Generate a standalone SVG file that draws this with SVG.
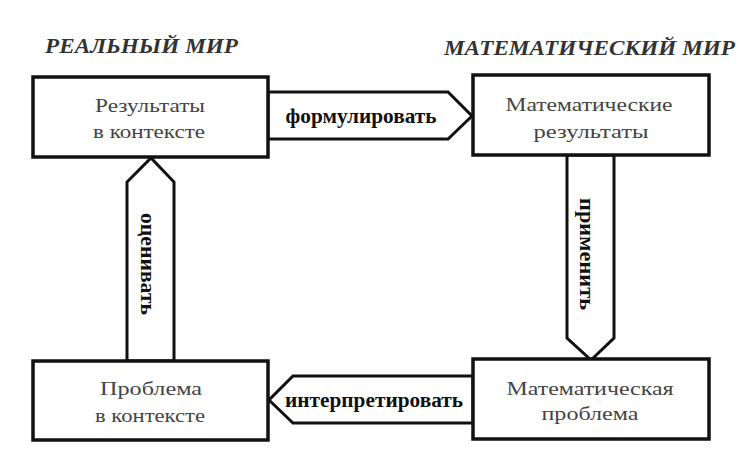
<svg xmlns="http://www.w3.org/2000/svg" width="754" height="470" viewBox="0 0 754 470">
<style>
.box{fill:#fff;stroke:#111;stroke-width:3.5}
.arr{fill:#fff;stroke:#111;stroke-width:3;stroke-linejoin:miter}
.bt{font-family:"Liberation Serif","Times New Roman",serif;font-size:19px;fill:#444;text-anchor:middle}
.al{font-family:"Liberation Serif","Times New Roman",serif;font-size:20px;font-weight:bold;fill:#111;text-anchor:middle}
.tt{font-family:"Liberation Serif","Times New Roman",serif;font-size:20px;font-weight:bold;font-style:italic;fill:#333}
</style>
<rect width="754" height="470" fill="#fff"/>
<text class="tt" x="45" y="53" textLength="193" lengthAdjust="spacingAndGlyphs">РЕАЛЬНЫЙ МИР</text>
<text class="tt" x="444" y="55" textLength="291" lengthAdjust="spacingAndGlyphs">МАТЕМАТИЧЕСКИЙ МИР</text>
<g id="connectors">
<g id="formulate">
<polygon class="arr" points="268,92 448,92 472,116 448,139 268,139"/>
<text class="al" x="361" y="123" textLength="151" lengthAdjust="spacingAndGlyphs">формулировать</text>
</g>
<g id="apply">
<polygon class="arr" points="567,155 567,338 591,360 614,338 614,155"/>
<text class="al" transform="translate(580,254) rotate(90)" x="0" y="0" textLength="112" lengthAdjust="spacingAndGlyphs">применить</text>
</g>
<g id="interpret">
<polygon class="arr" points="473,376 293,376 269,400 293,423 473,423"/>
<text class="al" x="374" y="407" textLength="178" lengthAdjust="spacingAndGlyphs">интерпретировать</text>
</g>
<g id="evaluate">
<polygon class="arr" points="127,361 127,182 151,158 174,182 174,361"/>
<text class="al" transform="translate(141,264) rotate(90)" x="0" y="0" textLength="102" lengthAdjust="spacingAndGlyphs">оценивать</text>
</g>
</g>
<g id="real-results">
<rect class="box" x="33" y="77" width="235" height="80"/>
<text class="bt" x="150" y="112" textLength="110" lengthAdjust="spacingAndGlyphs">Результаты</text>
<text class="bt" x="149" y="138" textLength="112" lengthAdjust="spacingAndGlyphs">в контексте</text>
</g>
<g id="math-results">
<rect class="box" x="473" y="75" width="236" height="80"/>
<text class="bt" x="589" y="111" textLength="167" lengthAdjust="spacingAndGlyphs">Математические</text>
<text class="bt" x="591" y="138" textLength="115" lengthAdjust="spacingAndGlyphs">результаты</text>
</g>
<g id="real-problem">
<rect class="box" x="33" y="361" width="235" height="79"/>
<text class="bt" x="151" y="395" textLength="102" lengthAdjust="spacingAndGlyphs">Проблема</text>
<text class="bt" x="150" y="422" textLength="110" lengthAdjust="spacingAndGlyphs">в контексте</text>
</g>
<g id="math-problem">
<rect class="box" x="473" y="359" width="236" height="80"/>
<text class="bt" x="590" y="395" textLength="167" lengthAdjust="spacingAndGlyphs">Математическая</text>
<text class="bt" x="590" y="420" textLength="97" lengthAdjust="spacingAndGlyphs">проблема</text>
</g>
</svg>
